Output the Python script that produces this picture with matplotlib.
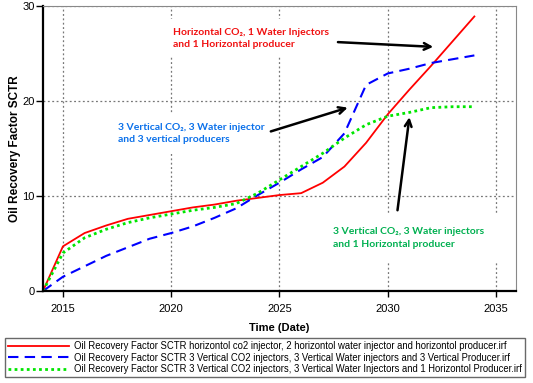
import matplotlib
matplotlib.use('Agg')
import matplotlib.pyplot as plt

# data (oil recovery factor, %)
years = [2014.08, 2015, 2016, 2017, 2018, 2019, 2020, 2021, 2022, 2023, 2024,
         2025, 2026, 2027, 2028, 2029, 2030, 2031, 2032, 2033, 2034]
red = [0, 4.7, 6.1, 6.9, 7.6, 8.0, 8.4, 8.8, 9.1, 9.5, 9.8,
       10.1, 10.3, 11.4, 13.1, 15.6, 18.6, 21.2, 23.7, 26.3, 28.9]
blue = [0, 1.5, 2.6, 3.7, 4.6, 5.5, 6.1, 6.8, 7.7, 8.7, 10.1,
        11.4, 12.8, 14.1, 16.6, 21.7, 22.9, 23.4, 24.0, 24.4, 24.8]
green = [0, 4.0, 5.6, 6.5, 7.2, 7.7, 8.1, 8.5, 8.8, 9.2, 10.3,
         11.7, 13.1, 14.5, 16.1, 17.5, 18.4, 18.8, 19.3, 19.4, 19.4]

labels = ['Oil Recovery Factor SCTR horizontol co2 injector, 2 horizontol water injector and horizontol producer.irf',
          'Oil Recovery Factor SCTR 3 Vertical CO2 injectors, 3 Vertical Water injectors and 3 Vertical Producer.irf',
          'Oil Recovery Factor SCTR 3 Vertical CO2 injectors, 3 Vertical Water Injectors and 1 Horizontol Producer.irf']

xticks = [2015, 2020, 2025, 2030, 2035]
yticks = [0, 10, 20, 30]

plt.rcParams['font.family'] = ['Liberation Sans', 'DejaVu Sans']

fig = plt.figure(figsize=(5.33, 3.83), dpi=100)
ax = fig.add_axes([0.0807, 0.2402, 0.8873, 0.7441])

l1, = ax.plot(years, red, color='#ff0000', lw=1.3, ls='-')
l2, = ax.plot(years, blue, color='#0000ff', lw=1.5, ls=(0, (5, 3)))
l3, = ax.plot(years, green, color='#00e600', lw=2.0, ls=(0, (1, 1.2)))

ax.set_xlim(years[0], 2035.92)
ax.set_ylim(0, 30)
ax.set_xticks(xticks)
ax.set_yticks(yticks)
ax.tick_params(labelsize=8, length=4, width=1, direction='out')
ax.tick_params(axis='x', pad=5)
ax.tick_params(axis='y', pad=1, length=5)
ax.grid(True, color='#777777', ls=(0, (1.5, 2)), lw=0.9)

# black left/bottom, grey top/right frame
ax.spines['left'].set_linewidth(1.6)
ax.spines['bottom'].set_linewidth(1.6)
ax.spines['top'].set_color('#888888')
ax.spines['right'].set_color('#888888')

ax.set_xlabel('Time (Date)', fontsize=8, fontweight='bold', labelpad=7)
ax.set_ylabel('Oil Recovery Factor SCTR', fontsize=8.5, fontweight='bold')
ax.yaxis.set_label_coords(-0.047, 0.5)

# annotations
txt_font = ['Lato', 'DejaVu Sans']
ax.text(2020.1, 26.6, 'Horizontal CO\u2082, 1 Water Injectors\nand 1 Horizontal producer',
        color='#f01010', fontsize=7.5, fontweight='bold', family=txt_font,
        va='center', ha='left', linespacing=1.5,
        bbox=dict(facecolor='white', edgecolor='none', pad=6), zorder=3)
ax.text(2017.55, 16.6, '3 Vertical CO\u2082, 3 Water injector\nand 3 vertical producers',
        color='#0a70ea', fontsize=7.5, fontweight='bold', family=txt_font,
        va='center', ha='left', linespacing=1.5,
        bbox=dict(facecolor='white', edgecolor='none', pad=6), zorder=3)
ax.text(2027.45, 5.6, '3 Vertical CO\u2082, 3 Water injectors\nand 1 Horizontal producer',
        color='#00b050', fontsize=7.5, fontweight='bold', family=txt_font,
        va='center', ha='left', linespacing=1.5,
        bbox=dict(facecolor='white', edgecolor='none', pad=10), zorder=3)

arrow = dict(arrowstyle='->', lw=1.8, color='black', mutation_scale=12, shrinkA=0, shrinkB=0)
ax.annotate('', xy=(2032.1, 25.7), xytext=(2027.7, 26.2), arrowprops=arrow, zorder=4)
ax.annotate('', xy=(2028.15, 19.3), xytext=(2024.6, 16.8), arrowprops=arrow, zorder=4)
ax.annotate('', xy=(2031.0, 18.3), xytext=(2030.45, 8.5), arrowprops=arrow, zorder=4)

# legend box under the chart
leg = fig.legend([l1, l2, l3], labels, loc='center', bbox_to_anchor=(0.497, 0.066),
                 ncol=1, handlelength=6.4, handletextpad=0.5,
                 labelspacing=0.15, borderpad=0.3, borderaxespad=0, fancybox=False,
                 prop={'family': 'Liberation Sans', 'size': 6.85})
leg.get_frame().set_edgecolor('#444444')
leg.get_frame().set_linewidth(1.0)

fig.savefig('out.png', dpi=100)
